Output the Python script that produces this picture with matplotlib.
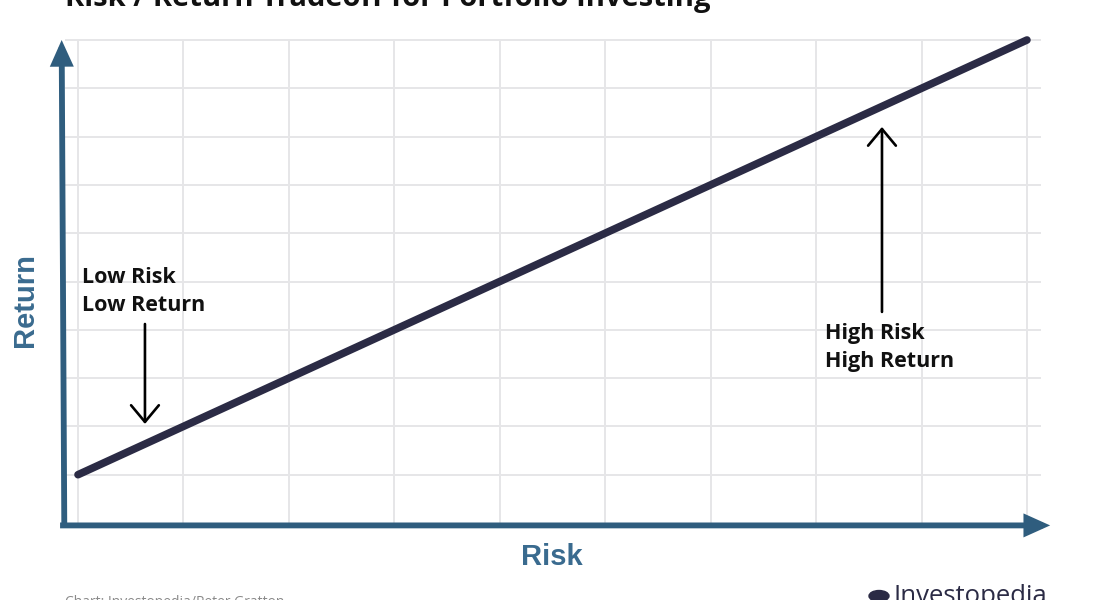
import matplotlib
matplotlib.use("Agg")
import matplotlib.pyplot as plt
from matplotlib.patches import Circle

# ---- data ----
risk = [0, 9]
ret = [1, 10]
x_grid = list(range(0, 10))
y_grid = list(range(1, 11))
title = "Risk / Return Tradeoff for Portfolio Investing"
xlabel = "Risk"
ylabel = "Return"
low_label = "Low Risk\nLow Return"
high_label = "High Risk\nHigh Return"
footer = "Chart: Investopedia/Peter Gratton"
brand = "Investopedia"

# ---- figure ----
W, H = 1095, 600
fig = plt.figure(figsize=(W / 100, H / 100), dpi=100)
ax = fig.add_axes([0, 0, 1, 1])
px_x = 105.44
px_y = 48.3
x0_px, y0_px = 78, 523
ax.set_xlim(-x0_px / px_x, (W - x0_px) / px_x)
ax.set_ylim(-(H - y0_px) / px_y, y0_px / px_y)
ax.axis("off")

grid_c = "#e6e6e8"
ax.hlines(y_grid, -0.12, 9.13, color=grid_c, lw=1.4, zorder=1)
ax.vlines(x_grid, 0, 10, color=grid_c, lw=1.4, zorder=1)

axis_c = "#2f5d7e"
arrow_style = "-|>,head_length=0.8,head_width=0.36"
# y axis arrow
ax.annotate("", xy=(-0.155, 10.0), xytext=(-0.13, -0.07),
            arrowprops=dict(arrowstyle=arrow_style, joinstyle="miter",
                            capstyle="butt",
                            mutation_scale=15, lw=4.2, color=axis_c,
                            shrinkA=0, shrinkB=0), zorder=3)
# x axis arrow
ax.annotate("", xy=(9.22, -0.05), xytext=(-0.17, -0.05),
            arrowprops=dict(arrowstyle=arrow_style, joinstyle="miter",
                            capstyle="butt",
                            mutation_scale=15, lw=4.2, color=axis_c,
                            shrinkA=0, shrinkB=0), zorder=3)

# main line
ax.plot(risk, ret, color="#2b2b45", lw=5.5, solid_capstyle="round", zorder=4)

# annotation arrows
small_style = "->,head_length=0.6,head_width=0.5"
ax.annotate("", xy=(0.635, 2.05), xytext=(0.635, 4.12),
            arrowprops=dict(arrowstyle=small_style,
                            mutation_scale=20, lw=1.9, color="black",
                            shrinkA=0, shrinkB=0), zorder=5)
ax.annotate("", xy=(7.625, 8.2), xytext=(7.625, 4.37),
            arrowprops=dict(arrowstyle=small_style,
                            mutation_scale=20, lw=1.9, color="black",
                            shrinkA=0, shrinkB=0), zorder=5)

ann_font = dict(family="Open Sans", fontweight="bold", fontsize=15.5,
                color="#111111", linespacing=1.45)
ax.text(0.035, 4.80, low_label, ha="left", va="center", **ann_font)
ax.text(7.085, 3.63, high_label, ha="left", va="center", **ann_font)

lab_font = dict(family="Liberation Sans", fontweight="bold", fontsize=21,
                color="#3a6b8f")
ax.text(4.495, -0.70, xlabel, ha="center", va="center", **lab_font)
ax.text(-0.505, 4.62, ylabel, ha="center", va="center", rotation=90, **lab_font)

# title (cut off at top, as in the reference crop)
fig.text(65 / W, 1 - 6 / H, title, ha="left", va="baseline",
         family="Open Sans", fontweight="bold", fontsize=21, color="#111111")
# footer (cut off at bottom)
fig.text(65 / W, 1 - 595 / H, footer, ha="left", va="top",
         family="Open Sans", fontsize=10, color="#8a8a8a")
# brand
fig.text(893 / W, 1 - 584 / H, brand, ha="left", va="top",
         family="Open Sans", fontsize=18.5, color="#2b2b45")
fig.patches.append(Circle((879 / W, 1 - 596 / H), 10 / W, transform=fig.transFigure,
                          color="#2b2b45", zorder=5))

fig.savefig("out.png", dpi=100)
